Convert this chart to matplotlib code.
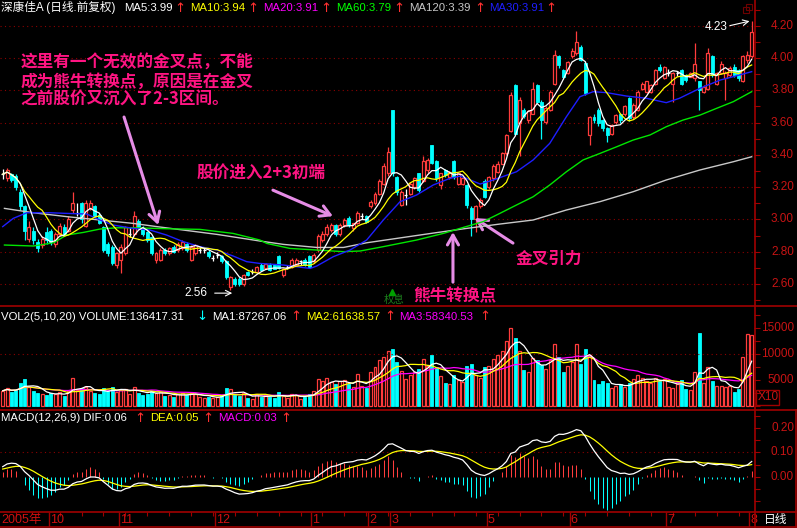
import numpy as np
import pandas as pd
import matplotlib
matplotlib.use("Agg")
import matplotlib.pyplot as plt
from matplotlib.patches import Rectangle
from matplotlib.lines import Line2D
from matplotlib.transforms import blended_transform_factory

# ---------------- data ----------------
opens = [
    3.28, 3.255, 3.28, 3.27, 3.17, 3.08, 2.88, 2.93, 2.86, 2.84,
    2.92, 2.93, 2.85, 2.91, 2.95, 2.93, 3.06, 3.04, 3.10, 2.96,
    3.07, 3.08, 3.03, 2.95, 2.85, 2.83, 2.72, 2.75, 2.79, 2.91,
    2.91, 2.99, 2.945, 2.92, 2.89, 2.75, 2.75, 2.81, 2.79, 2.83,
    2.81, 2.82, 2.85, 2.75, 2.79, 2.81, 2.81, 2.80, 2.76, 2.78,
    2.77, 2.74, 2.58, 2.63, 2.63, 2.60, 2.675, 2.675, 2.675, 2.72,
    2.70, 2.72, 2.715, 2.77, 2.655, 2.705, 2.705, 2.72, 2.74, 2.75,
    2.77, 2.74, 2.81, 2.87, 2.91, 2.935, 2.965, 2.91, 2.965, 3.01,
    2.945, 2.975, 3.02, 3.02, 3.08, 3.10, 3.16, 3.22, 3.285, 3.68,
    3.26, 3.09, 3.15, 3.16, 3.20, 3.285, 3.24, 3.305, 3.46, 3.36,
    3.21, 3.305, 3.265, 3.36, 3.22, 3.22, 3.21, 3.07, 3.00, 3.08,
    3.24, 3.20, 3.255, 3.295, 3.345, 3.41, 3.55, 3.83, 3.595, 3.68,
    3.615, 3.655, 3.83, 3.73, 3.605, 3.68, 3.84, 4.01, 3.925, 3.905,
    4.01, 4.03, 4.07, 3.97, 3.52, 3.635, 3.68, 3.615, 3.565, 3.53,
    3.605, 3.655, 3.655, 3.75, 3.635, 3.68, 3.81, 3.79, 3.79, 3.84,
    3.945, 3.875, 3.905, 3.84, 3.905, 3.925, 3.895, 3.885, 3.875, 3.855,
    3.79, 3.81, 4.01, 3.84, 3.905, 3.875, 3.895, 3.945, 3.925, 3.855,
    3.985, 4.01]
closes = [
    3.28, 3.305, 3.245, 3.20, 3.08, 2.93, 2.95, 2.87, 2.82, 2.88,
    2.87, 2.86, 2.91, 2.96, 2.91, 3.00, 3.10, 3.04, 3.00, 3.10,
    3.10, 3.02, 2.98, 2.81, 2.79, 2.73, 2.79, 2.83, 2.95, 2.91,
    3.02, 2.955, 2.91, 2.87, 2.79, 2.79, 2.81, 2.79, 2.82, 2.80,
    2.85, 2.86, 2.81, 2.83, 2.84, 2.81, 2.81, 2.77, 2.76, 2.78,
    2.74, 2.64, 2.64, 2.60, 2.60, 2.655, 2.655, 2.675, 2.705, 2.685,
    2.725, 2.685, 2.695, 2.70, 2.695, 2.705, 2.75, 2.75, 2.74, 2.72,
    2.705, 2.78, 2.90, 2.91, 2.955, 2.965, 2.91, 2.965, 2.995, 2.965,
    2.975, 3.04, 3.02, 2.985, 3.11, 3.16, 3.24, 3.33, 3.42, 3.285,
    3.17, 3.17, 3.15, 3.22, 3.255, 3.18, 3.36, 3.365, 3.35, 3.255,
    3.285, 3.275, 3.295, 3.265, 3.285, 3.255, 3.09, 3.00, 3.08, 3.12,
    3.14, 3.265, 3.33, 3.345, 3.41, 3.52, 3.77, 3.53, 3.74, 3.64,
    3.67, 3.81, 3.73, 3.615, 3.69, 3.79, 4.02, 3.955, 3.885, 3.975,
    4.04, 4.10, 3.99, 3.78, 3.635, 3.615, 3.595, 3.565, 3.52, 3.585,
    3.645, 3.615, 3.70, 3.625, 3.71, 3.79, 3.84, 3.855, 3.83, 3.925,
    3.925, 3.945, 3.905, 3.905, 3.905, 3.84, 3.865, 3.905, 3.965, 3.80,
    3.82, 4.03, 3.895, 3.905, 3.965, 3.905, 3.935, 3.895, 3.875, 4.01,
    4.02, 4.16]
highs = [
    3.31, 3.32, 3.29, 3.28, 3.19, 3.09, 2.99, 2.95, 2.88, 2.90,
    2.95, 2.94, 2.92, 2.98, 2.97, 3.02, 3.17, 3.10, 3.11, 3.12,
    3.12, 3.09, 3.04, 2.96, 2.86, 2.84, 2.80, 2.85, 2.96, 2.95,
    3.05, 3.00, 2.96, 2.93, 2.90, 2.80, 2.82, 2.82, 2.83, 2.84,
    2.86, 2.87, 2.86, 2.84, 2.85, 2.83, 2.83, 2.81, 2.78, 2.80,
    2.78, 2.75, 2.65, 2.64, 2.64, 2.66, 2.68, 2.69, 2.71, 2.73,
    2.73, 2.73, 2.72, 2.78, 2.70, 2.72, 2.76, 2.76, 2.75, 2.76,
    2.78, 2.79, 2.91, 2.93, 2.97, 2.98, 2.97, 2.98, 3.01, 3.02,
    2.98, 3.05, 3.04, 3.03, 3.12, 3.17, 3.25, 3.35, 3.45, 3.68,
    3.27, 3.18, 3.19, 3.23, 3.26, 3.29, 3.39, 3.38, 3.46, 3.37,
    3.29, 3.31, 3.30, 3.37, 3.29, 3.26, 3.22, 3.08, 3.09, 3.13,
    3.25, 3.27, 3.34, 3.36, 3.42, 3.53, 3.79, 3.84, 3.76, 3.69,
    3.68, 3.85, 3.84, 3.74, 3.70, 3.80, 4.05, 4.02, 3.93, 3.98,
    4.06, 4.17, 4.08, 3.98, 3.64, 3.65, 3.69, 3.62, 3.57, 3.59,
    3.65, 3.66, 3.71, 3.76, 3.72, 3.80, 3.85, 3.86, 3.84, 3.93,
    3.96, 3.95, 3.93, 3.91, 3.92, 3.93, 3.90, 3.91, 4.09, 3.86,
    3.83, 4.06, 4.02, 3.91, 3.98, 3.92, 3.95, 3.96, 3.93, 4.02,
    4.04, 4.23]
lows = [
    3.25, 3.24, 3.23, 3.18, 3.06, 2.87, 2.86, 2.85, 2.80, 2.82,
    2.85, 2.84, 2.83, 2.90, 2.90, 2.92, 3.04, 3.02, 2.98, 2.95,
    3.06, 3.01, 2.97, 2.80, 2.77, 2.72, 2.70, 2.67, 2.78, 2.89,
    2.90, 2.94, 2.90, 2.86, 2.78, 2.73, 2.74, 2.78, 2.78, 2.79,
    2.80, 2.81, 2.80, 2.74, 2.78, 2.79, 2.79, 2.76, 2.74, 2.76,
    2.73, 2.63, 2.56, 2.59, 2.59, 2.59, 2.65, 2.66, 2.67, 2.68,
    2.69, 2.68, 2.69, 2.69, 2.64, 2.69, 2.70, 2.71, 2.72, 2.71,
    2.70, 2.73, 2.80, 2.86, 2.90, 2.92, 2.90, 2.90, 2.95, 2.95,
    2.93, 2.97, 3.00, 2.98, 3.07, 3.09, 3.15, 3.21, 3.27, 3.27,
    3.15, 3.08, 3.09, 3.15, 3.19, 3.17, 3.23, 3.29, 3.34, 3.24,
    3.19, 3.26, 3.25, 3.25, 3.21, 3.21, 3.07, 2.90, 2.92, 3.07,
    3.13, 3.19, 3.24, 3.29, 3.34, 3.40, 3.54, 3.52, 3.39, 3.63,
    3.60, 3.65, 3.72, 3.50, 3.59, 3.67, 3.83, 3.94, 3.87, 3.90,
    4.00, 4.02, 3.98, 3.77, 3.46, 3.60, 3.58, 3.55, 3.48, 3.52,
    3.59, 3.60, 3.64, 3.61, 3.62, 3.67, 3.80, 3.78, 3.78, 3.83,
    3.91, 3.87, 3.89, 3.73, 3.89, 3.83, 3.85, 3.88, 3.86, 3.68,
    3.78, 3.80, 3.88, 3.83, 3.90, 3.74, 3.88, 3.88, 3.86, 3.85,
    3.97, 4.00]
volumes = [
    3000, 3500, 2800, 3200, 4500, 5200, 3800, 3000, 2600, 2400,
    2200, 2500, 2300, 2800, 2000, 3000, 5500, 3200, 3500, 3800,
    2900, 2600, 2400, 3500, 3000, 3800, 2800, 3200, 3400, 2300,
    3800, 2500, 2200, 2400, 3000, 2600, 2700, 2000, 2200, 1900,
    2300, 2500, 2100, 2600, 2400, 1800, 1700, 1900, 1600, 1800,
    2200, 3600, 3400, 2200, 2000, 2500, 1700, 1500, 2400, 1900,
    2100, 1800, 1700, 2800, 2000, 1600, 2300, 2200, 1500, 1900,
    2400, 3000, 5200, 4800, 5500, 4600, 4200, 4800, 5000, 4300,
    3800, 6200, 4000, 3600, 6500, 7600, 8800, 9500, 10500, 11000,
    8500, 6800, 5200, 6000, 6500, 7200, 9000, 7800, 9800, 7500,
    5800, 4500, 4200, 6000, 5000, 4600, 7800, 8200, 6000, 5500,
    7500, 7800, 9000, 9800, 10500, 12500, 15000, 13000, 10500, 7000,
    6500, 9200, 8800, 8000, 7200, 8800, 12000, 9500, 6500, 7800,
    8500, 12000, 8200, 11000, 9800, 5000, 4200, 4800, 4500, 3500,
    4000, 4200, 3800, 4500, 5200, 6000, 5500, 4800, 4500, 5500,
    4800, 5200, 3800, 3500, 4200, 5000, 3400, 3200, 6500, 14000,
    4500, 7600, 4800, 3900, 3900, 3700, 4000, 2800, 3400, 9500,
    13900, 13642]

# long moving averages, read at sample bars
ma30_pos = [0, 2.4, 5.5, 10.8, 14.6, 19.2, 22.2, 25.2, 29.8, 33.6,
            37.4, 41.2, 45.0, 48.9, 52.6, 55.7, 58.7, 64.1, 70.2, 71.7,
            75.5, 79.3, 83.1, 86.9, 90.7, 94.5, 98.3, 102.1, 104.4, 105.9,
            109.0, 112.0, 117.3, 121.1, 124.9, 128.7, 131.8, 134.8, 137.9, 142.4,
            147.0, 151.5, 154.5, 159.2, 163.8, 166.8, 171.0]
ma30_val = [2.955, 3.006, 3.041, 3.041, 3.037, 3.033, 2.996, 2.965, 2.944, 2.934,
            2.903, 2.862, 2.831, 2.810, 2.773, 2.738, 2.727, 2.717, 2.696, 2.711,
            2.769, 2.810, 2.872, 2.996, 3.109, 3.151, 3.213, 3.254, 3.268, 3.254,
            3.219, 3.244, 3.295, 3.368, 3.471, 3.636, 3.760, 3.791, 3.785, 3.764,
            3.750, 3.723, 3.750, 3.812, 3.863, 3.884, 3.915]
ma60_pos = [0.4, 7.0, 11.6, 14.6, 18.4, 22.2, 26.0, 29.8, 37.4, 45.0,
            52.6, 58.7, 60.3, 65.6, 71.7, 77.8, 81.6, 86.9, 94.5, 100.6,
            104.4, 109.7, 113.5, 117.3, 121.1, 124.9, 128.7, 132.5, 136.4, 140.2,
            143.9, 147.8, 151.5, 155.3, 159.2, 163.0, 166.8, 171.0]
ma60_val = [2.841, 2.835, 2.855, 2.903, 2.919, 2.940, 2.948, 2.948, 2.942, 2.938,
            2.913, 2.872, 2.851, 2.820, 2.810, 2.800, 2.804, 2.831, 2.872, 2.913,
            2.944, 2.986, 3.037, 3.089, 3.140, 3.213, 3.295, 3.368, 3.409, 3.450,
            3.491, 3.523, 3.574, 3.615, 3.646, 3.688, 3.729, 3.791]
ma120_pos = [0.4, 7.0, 14.6, 22.2, 29.8, 35.2, 41.2, 48.9, 58.7, 64.1,
             71.7, 77.8, 83.1, 90.7, 98.3, 105.9, 113.5, 121.1, 128.7, 136.4,
             143.9, 151.5, 159.2, 166.8, 171.0]
ma120_val = [3.068, 3.041, 3.017, 2.996, 2.975, 2.955, 2.934, 2.907, 2.866, 2.845,
             2.826, 2.826, 2.855, 2.885, 2.915, 2.944, 2.971, 2.996, 3.058, 3.110,
             3.171, 3.244, 3.306, 3.357, 3.388]

# EMA state just before the first bar (from the DIF / DEA levels at the left edge)
ema12_start = 3.10
ema26_start = 3.07
dea_start = 0.03

month_first = [11, 27, 49, 71, 84, 89, 111, 130, 152, 171]
month_labels = ["10", "11", "12", "1", "2", "3", "5", "6", "7", "8"]
price_labels = [2.60, 2.80, 3.00, 3.20, 3.40, 3.60, 3.80, 4.00, 4.20]
vol_labels = [5000, 10000, 15000]
macd_labels = [0.00, 0.10, 0.20]

note_lines = ["这里有一个无效的金叉点，不能",
              "成为熊牛转换点，原因是在金叉",
              "之前股价又沉入了2-3区间。"]

# ---------------- derived series ----------------
o = np.array(opens); c = np.array(closes)
h = np.maximum(np.array(highs), np.maximum(o, c))
l = np.minimum(np.array(lows), np.minimum(o, c))
v = np.array(volumes, dtype=float)
idx = np.arange(len(c))
cs = pd.Series(c)
ma5 = cs.rolling(5, min_periods=1).mean()
ma10 = cs.rolling(10, min_periods=1).mean()
vs = pd.Series(v)
vma5 = vs.rolling(5, min_periods=1).mean()
vma10 = vs.rolling(10, min_periods=1).mean()
vma20 = vs.rolling(20, min_periods=1).mean()

e12, e26, d = ema12_start, ema26_start, dea_start
dif, dea = [], []
for price in c:
    e12 += 2 / 13 * (price - e12)
    e26 += 2 / 27 * (price - e26)
    d += 2 / 10 * ((e12 - e26) - d)
    dif.append(e12 - e26)
    dea.append(d)
dif = np.array(dif); dea = np.array(dea)
hist = 2 * (dif - dea)

# ---------------- style ----------------
W, H = 797, 528
BG = "#000000"
FRAME = "#A00000"
AXRED = "#C81414"
UP = "#FF3C3C"
DOWN = "#00FFFF"
PINK = "#FF1482"
VIOLET = "#E68CE6"

plt.rcParams["font.family"] = ["Liberation Sans", "Noto Sans CJK SC", "DejaVu Sans"]

fig = plt.figure(figsize=(W / 100, H / 100), dpi=100, facecolor=BG)


def px_axes(x0, y0, x1, y1):
    return fig.add_axes([x0 / W, 1 - y1 / H, (x1 - x0) / W, (y1 - y0) / H], facecolor=BG)


def ftext(px, py, s, color, size=8.2, **kw):
    fig.text(px / W, 1 - py / H, s, color=color, fontsize=size, ha="left", va="center", **kw)


def fline(x0, y0, x1, y1, color=FRAME, lw=1.2):
    fig.add_artist(Line2D([x0 / W, x1 / W], [1 - y0 / H, 1 - y1 / H],
                          color=color, lw=lw, transform=fig.transFigure))


XMIN = -2.7 / 4.38
XMAX = XMIN + 754 / 4.38

ax_p = px_axes(0, 0, 754, 305.5)
ax_v = px_axes(0, 305.5, 754, 409.5)
ax_m = px_axes(0, 409.5, 754, 512)
ax_d = px_axes(0, 512, 754, 527)

ax_p.set_ylim(2.4664, 4.359)
ax_v.set_ylim(-573, 19275)
ax_m.set_ylim(-0.1429, 0.2755)
ax_d.set_ylim(0, 1)

for ax, ticks in ((ax_p, np.arange(2.5, 4.36, 0.1)),
                  (ax_v, np.arange(0, 19000, 2500)),
                  (ax_m, np.arange(-0.10, 0.28, 0.05)),
                  (ax_d, [])):
    ax.set_xlim(XMIN, XMAX)
    for s in ax.spines.values():
        s.set_visible(False)
    ax.set_xticks([])
    ax.yaxis.tick_right()
    ax.set_yticks(ticks)
    ax.tick_params(axis="y", which="both", direction="out", length=4.5, width=0.8,
                   color=FRAME, labelright=False, right=True, left=False)

# dotted grid + right-hand labels
dots = (0, (1.0, 3.0))
for ax, vals, fmt in ((ax_p, price_labels, "{:.2f}"),
                      (ax_v, vol_labels, "{:d}"),
                      (ax_m, macd_labels, "{:.2f}")):
    tr = blended_transform_factory(fig.transFigure, ax.transData)
    for val in vals:
        ax.text(794 / W, val, fmt.format(val), transform=tr, ha="right", va="center",
                color=AXRED, fontsize=8.5, clip_on=False)
ax_p.hlines(price_labels, XMIN, XMAX, colors="#8C0000", linestyles=dots, lw=0.8)
ax_v.hlines([10000], XMIN, XMAX, colors="#8C0000", linestyles=dots, lw=0.8)
ax_m.hlines([0.10], XMIN, XMAX, colors="#8C0000", linestyles=dots, lw=0.8)

# ---------------- candles ----------------
bw = 0.68
for i in idx:
    if abs(c[i] - o[i]) < 0.002:
        ax_p.vlines(i, l[i], h[i], color="white", lw=0.9, zorder=2)
        ax_p.hlines(c[i], i - bw / 2, i + bw / 2, color="white", lw=0.9, zorder=2)
    elif c[i] > o[i]:
        ax_p.vlines(i, l[i], h[i], color=UP, lw=0.9, zorder=2)
        ax_p.add_patch(Rectangle((i - bw / 2, o[i]), bw, c[i] - o[i], facecolor=BG,
                                 edgecolor=UP, lw=0.9, zorder=3))
    else:
        ax_p.vlines(i, l[i], h[i], color=DOWN, lw=0.9, zorder=2)
        ax_p.add_patch(Rectangle((i - bw / 2, c[i]), bw, o[i] - c[i], facecolor=DOWN,
                                 edgecolor=DOWN, lw=0.6, zorder=3))

ax_p.plot(ma120_pos, ma120_val, color="#C8C8C8", lw=1.0, zorder=4)
ax_p.plot(ma60_pos, ma60_val, color="#00E600", lw=1.0, zorder=4)
ax_p.plot(ma30_pos, ma30_val, color="#1E1EFF", lw=1.0, zorder=4)
ax_p.plot(idx, ma10, color="#FFFF00", lw=0.9, zorder=5)
ax_p.plot(idx, ma5, color="white", lw=0.9, zorder=5)

# ---------------- volume ----------------
for i in idx:
    if c[i] >= o[i]:
        ax_v.add_patch(Rectangle((i - bw / 2, 0), bw, v[i], facecolor=BG, edgecolor=UP, lw=0.9))
    else:
        ax_v.add_patch(Rectangle((i - bw / 2, 0), bw, v[i], facecolor=DOWN, edgecolor=DOWN, lw=0.6))
ax_v.plot(idx, vma20, color="#FF00FF", lw=0.9)
ax_v.plot(idx, vma10, color="#FFFF00", lw=0.9)
ax_v.plot(idx, vma5, color="white", lw=0.9)

# ---------------- MACD ----------------
ax_m.vlines(idx, 0, hist, colors=[UP if x >= 0 else DOWN for x in hist], lw=0.75)
ax_m.plot(idx, dea, color="#FFFF00", lw=0.9)
ax_m.plot(idx, dif, color="white", lw=0.9)

# ---------------- date strip ----------------
ax_d.vlines([m - 0.5 for m in month_first], 0, 1, color=FRAME, lw=1.0)
ax_d.vlines(np.arange(3, len(c), 5), 0.72, 1, color=FRAME, lw=0.8)
ax_d.text(-0.3, 0.45, "2005年", color="#D01010", fontsize=9, ha="left", va="center")
for m, lab in zip(month_first, month_labels):
    ax_d.text(m - 0.3, 0.45, lab, color="#D01010", fontsize=9, ha="left", va="center")

# ---------------- annotations ----------------
for k, line in enumerate(note_lines):
    ax_p.text(4.1, [3.977, 3.853, 3.740][k], line, color=PINK, fontsize=12,
              fontweight="bold", ha="left", va="center", family=["Noto Sans CJK SC"])
ax_p.text(44.3, 3.281, "股价进入2+3初端", color=PINK, fontsize=12, fontweight="bold",
          ha="left", va="center", family=["Noto Sans CJK SC"])
ax_p.text(93.7, 2.523, "熊牛转换点", color=PINK, fontsize=12, fontweight="bold",
          ha="left", va="center", family=["Noto Sans CJK SC"])
ax_p.text(117.0, 2.753, "金叉引力", color=PINK, fontsize=12, fontweight="bold",
          ha="left", va="center", family=["Noto Sans CJK SC"])

arrow_kw = dict(arrowstyle="->,head_length=0.7,head_width=0.4", color=VIOLET, lw=2.2,
                shrinkA=0, shrinkB=0)
ax_p.annotate("", xy=(35.5, 2.965), xytext=(27.7, 3.634), arrowprops=arrow_kw)
ax_p.annotate("", xy=(75.4, 3.020), xytext=(61.7, 3.181), arrowprops=arrow_kw)
ax_p.annotate("", xy=(102.8, 2.921), xytext=(102.8, 2.611), arrowprops=arrow_kw)
ax_p.annotate("", xy=(107.8, 3.008), xytext=(116.5, 2.853), arrowprops=arrow_kw)

ax_p.text(41.6, 2.543, "2.56", color="white", fontsize=8.5, ha="left", va="center")
ax_p.annotate("", xy=(52.4, 2.543), xytext=(48.4, 2.543),
              arrowprops=dict(arrowstyle="->", color="white", lw=0.8, shrinkA=0, shrinkB=0))
ax_p.text(160.3, 4.192, "4.23", color="white", fontsize=8.5, ha="left", va="center")
ax_p.annotate("", xy=(170.5, 4.228), xytext=(166.0, 4.200),
              arrowprops=dict(arrowstyle="->", color="white", lw=0.8, shrinkA=0, shrinkB=0))

ax_p.plot([88.9], [2.548], marker="^", color="#00A000", ms=5, zorder=6)
ax_p.text(89.3, 2.50, "权息", color="#1C7A1C", fontsize=7.5, ha="center", va="center",
          family=["Noto Sans CJK SC"])

# ---------------- header lines ----------------
RED_ARROW = "#FF3030"
header = [("深康佳A (日线.前复权)", "white", 1), ("MA5:3.99", "white", 124), ("↑", RED_ARROW, 174),
          ("MA10:3.94", "#FFFF00", 190), ("↑", RED_ARROW, 247),
          ("MA20:3.91", "#FF00FF", 263), ("↑", RED_ARROW, 320),
          ("MA60:3.79", "#00FF00", 336), ("↑", RED_ARROW, 393),
          ("MA120:3.39", "#C8C8C8", 409), ("↑", RED_ARROW, 474),
          ("MA30:3.91", "#1E1EFF", 489), ("↑", RED_ARROW, 545)]
vol_header = [("VOL2(5,10,20) VOLUME:136417.31", "white", 1), ("↓", DOWN, 196),
              ("MA1:87267.06", "white", 212), ("↑", RED_ARROW, 290),
              ("MA2:61638.57", "#FFFF00", 306), ("↑", RED_ARROW, 384),
              ("MA3:58340.53", "#FF00FF", 399), ("↑", RED_ARROW, 479)]
macd_header = [("MACD(12,26,9) DIF:0.06", "white", 1), ("↑", RED_ARROW, 134),
               ("DEA:0.05", "#FFFF00", 150), ("↑", RED_ARROW, 202),
               ("MACD:0.03", "#FF00FF", 218), ("↑", RED_ARROW, 280)]
for row, py in ((header, 8), (vol_header, 317), (macd_header, 418)):
    for s, col, x in row:
        if s in ("↑", "↓"):
            ftext(x, py, s, col, size=9.5, family=["DejaVu Sans"])
        else:
            ftext(x, py, s, col, size=8.4 if "深" in s else 8.2)

# ---------------- frame ----------------
fline(754.5, 0, 754.5, 528)
fline(0, 305.5, 797, 305.5)
fline(0, 409.5, 797, 409.5)
fline(0, 512, 797, 512)
fline(0, 527, 797, 527)
fline(796, 409.5, 796, 527)
fig.add_artist(Rectangle((756 / W, 1 - 405 / H), 23 / W, 15 / H, fill=False, edgecolor=FRAME,
                         lw=1.0, transform=fig.transFigure))
ftext(758, 397.5, "X10", AXRED, size=8.5)
ftext(764, 520, "日线", "white", size=8.5)
for dx in (0, 3):
    fig.add_artist(Rectangle(((743 + dx) / W, 1 - (13 - dx) / H), 6 / W, 6 / H, fill=False,
                             edgecolor="#6E0000", lw=0.8, transform=fig.transFigure))

fig.savefig("out.png", dpi=100, facecolor=BG)
